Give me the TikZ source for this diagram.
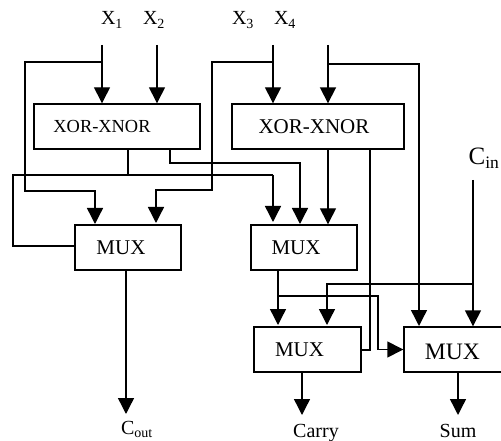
\documentclass[tikz,border=0pt]{standalone}
\usepackage{fontspec}
\setmainfont{Liberation Serif}
\usetikzlibrary{arrows.meta}
\tikzset{
  block/.style={draw, line width=1.4pt, minimum height=45pt, inner sep=0pt},
  wire/.style={line width=1.4pt},
  sig/.style={wire, -{Triangle[width=16pt, length=16pt]}},
  pin/.style={inner sep=0pt, anchor=base, font=\fontsize{20}{20}\selectfont}
}
\begin{document}
\begin{tikzpicture}[x=1pt, y=-1pt]
      \useasboundingbox (0,0) rectangle (501,441);

      \node[block, minimum width=166pt, label={[xshift=-15pt, font=\fontsize{18.4}{18.4}\selectfont]center:XOR-XNOR}] (xor1) at (117,126.5) {};
      \node[block, minimum width=172pt, label={[xshift=-4pt, font=\fontsize{21}{21}\selectfont]center:XOR-XNOR}] (xor2) at (318,126.5) {};
      \node[block, minimum width=106pt, label={[xshift=-7pt, font=\fontsize{21}{21}\selectfont]center:MUX}] (mux1) at (128,247.5) {};
      \node[block, minimum width=106pt, label={[xshift=-8pt, font=\fontsize{21}{21}\selectfont]center:MUX}] (mux2) at (304,247.5) {};
      \node[block, minimum width=107pt, label={[xshift=-8pt, font=\fontsize{21}{21}\selectfont]center:MUX}] (mux3) at (307.5,349.5) {};
      \node[block, minimum width=99pt, label={[xshift=-1pt, yshift=-2pt, font=\fontsize{23.6}{23.6}\selectfont]center:MUX}] (mux4) at (453.5,349.5) {};

      \node[pin] (x1) at (112,25) {X\textsubscript{1}};
      \node[pin] (x2) at (154,25) {X\textsubscript{2}};
      \node[pin] (x3) at (243,25) {X\textsubscript{3}};
      \node[pin] (x4) at (285,25) {X\textsubscript{4}};
      \node[pin, font=\fontsize{25}{25}\selectfont] (cin) at (484,165) {C\textsubscript{in}};
      \node[pin] (cout) at (137,434) {C\textsubscript{out}};
      \node[pin] (carry) at (316,437) {Carry};
      \node[pin] (sum) at (458,437) {Sum};

      \coordinate (a) at (102,45);
      \coordinate (b) at (157,45);
      \coordinate (c) at (273,45);
      \coordinate (d) at (328,45);
      \coordinate (e) at (473,180);

      \draw[sig] (a) -- (a |- xor1.north);
      \draw[sig] (b) -- (b |- xor1.north);
      \draw[sig] (c) -- (c |- xor2.north);
      \draw[sig, line width=1.8pt] (d) -- (d |- xor2.north);
      \draw[sig] (e) -- (e |- mux4.north);

      \draw[sig] (102,62) -- (25,62) -- (25,191) -- (95,191) -- (95,224);
      \draw[sig] (273,62) -- (212,62) -- (212,190) -- (156,190) -- (156,223);
      \draw[sig] (328,64) -- (419,64) -- (419,326);

      \draw[wire] (128,149) -- (128,175);
      \draw[wire] (75,246) -- (13,246) -- (13,175) -- (273,175);
      \draw[sig] (273,175) -- (273,222);
      \draw[sig] (170,149) -- (170,163) -- (300,163) -- (300,224);
      \draw[sig] (xor2.south -| d) -- (d |- mux2.north);
      \draw[wire] (370,149) -- (370,350) -- (361,350);

      \draw[sig] (126,270) -- (126,414);
      \draw[sig] (278,271) -- (278,325);
      \draw[sig] (278,296) -- (378,296) -- (378,349.5) -- (mux4.west);
      \draw[sig] (473,284) -- (327,284) -- (327,325);
      \draw[sig] (302,372) -- (302,415);
      \draw[sig] (458,372) -- (458,415);
    \end{tikzpicture}
\end{document}
